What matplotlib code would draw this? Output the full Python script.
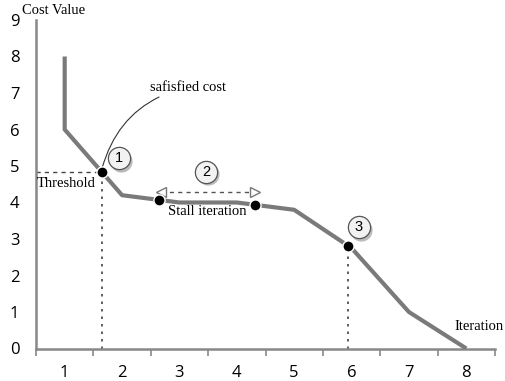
import matplotlib.pyplot as plt
import numpy as np

iterations = [1, 1, 2, 3, 4, 5, 6, 7, 8]
cost = [8, 6, 4.2, 4.0, 4.0, 3.8, 2.75, 1.0, 0]
x_labels = ['1', '2', '3', '4', '5', '6', '7', '8']

event_x = [1.65, 2.64, 4.31, 5.94]   # dots on the curve
badge_x = [1.945, 3.46, 6.13]
badge_y = [5.22, 4.84, 3.33]
badge_text = ['1', '2', '3']

# y of the dots (monotone part only)
event_y = np.interp(event_x, iterations[1:], cost[1:])
threshold = event_y[0]

fig = plt.figure(figsize=(5.05, 3.81), dpi=100)
ax = fig.add_axes([36/505, 1 - 348.5/381, 459/505, 328.5/381])

ax.plot(iterations, cost, color='#7a7a7a', lw=3, solid_capstyle='butt', zorder=3)

# threshold guide lines
ax.plot([0.5, event_x[0]], [threshold, threshold], color='#444444', lw=1, ls=(0, (3, 3)), zorder=2)
ax.plot([event_x[0], event_x[0]], [0, threshold], color='#444444', lw=1.2, ls=(0, (1.5, 3)), zorder=2)
ax.plot([event_x[3], event_x[3]], [0, event_y[3]], color='#444444', lw=1.2, ls=(0, (1.5, 3)), zorder=2)

# stall arrow
stall_y = 4.29
ax.plot([event_x[1] + 0.04, event_x[2] + 0.01], [stall_y, stall_y], color='#555555', lw=1,
        ls=(0, (3, 3)), zorder=2)
ax.plot([event_x[1] + 0.04], [stall_y], marker='<', ms=7, mfc='white', mec='#777777', mew=1, zorder=4)
ax.plot([event_x[2] + 0.01], [stall_y], marker='>', ms=7, mfc='white', mec='#777777', mew=1, zorder=4)

# dots
ax.plot(event_x, event_y, 'o', color='black', ms=8, mec='white', mew=1, zorder=5)

# numbered badges
for bx, by, bt in zip(badge_x, badge_y, badge_text):
    ax.plot([bx + 0.03], [by - 0.07], 'o', ms=16, color='#bbbbbb', mec='none', zorder=5)
    ax.plot([bx], [by], 'o', ms=16, mfc='#f2f2f2', mec='#555555', mew=0.9, zorder=6)
    ax.text(bx, by, bt, ha='center', va='center', fontsize=10.5, family='Liberation Sans', zorder=7)

serif = 'Liberation Serif'
ax.annotate('safisfied cost', xy=(event_x[0], threshold + 0.1), xytext=(2.49, 7.16),
            fontsize=10.5, family=serif, va='center', ha='left',
            arrowprops=dict(arrowstyle='-', color='#333333', lw=0.8,
                            connectionstyle='arc3,rad=0.3', shrinkA=1, shrinkB=0))
ax.text(0.52, 4.53, 'Threshold', fontsize=10.5, family=serif, va='center', ha='left', zorder=6)
ax.text(3.48, 3.74, 'Stall iteration', fontsize=10.5, family=serif, va='center', ha='center', zorder=6)
ax.text(7.8, 0.59, 'Iteration', fontsize=10.5, family=serif, va='center', ha='left', clip_on=False)
ax.text(0.25, 9.25, 'Cost Value', fontsize=10.5, family=serif, va='center', ha='left', clip_on=False)

ax.set_xlim(0.5, 8.5)
ax.set_ylim(0, 9)
ax.set_xticks(np.arange(0.5, 9, 1))
ax.set_xticklabels([])
ax.set_xticks(range(1, 9), minor=True)
ax.set_xticklabels(x_labels, minor=True)
ax.set_yticks(range(0, 10))
ax.tick_params(axis='x', which='major', length=5, width=1.2, color='#888888', direction='out')
ax.tick_params(axis='x', which='minor', length=0, pad=12, labelsize=12)
ax.tick_params(axis='y', length=0, pad=12, labelsize=12)
for lab in ax.get_xticklabels(minor=True) + ax.get_yticklabels():
    lab.set_family('Open Sans')

for side in ['top', 'right']:
    ax.spines[side].set_visible(False)
for side in ['left', 'bottom']:
    ax.spines[side].set_color('#888888')
    ax.spines[side].set_linewidth(1.8)

plt.savefig('out.png', dpi=100)
plt.close()
